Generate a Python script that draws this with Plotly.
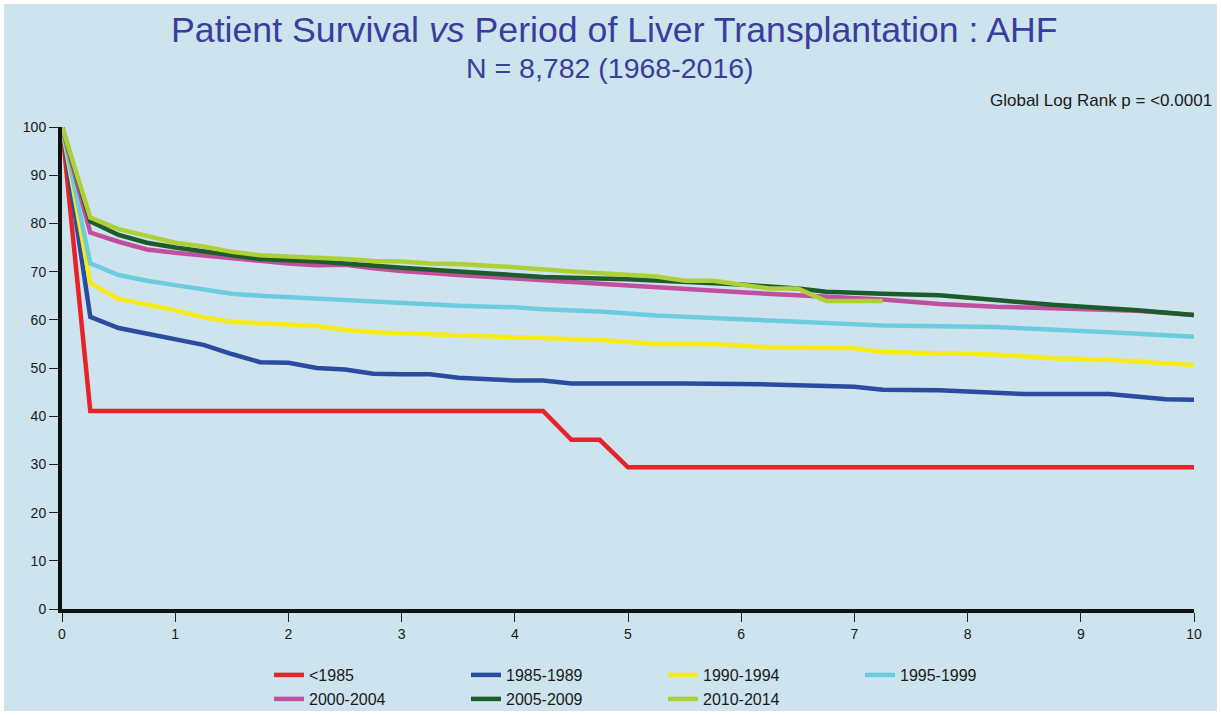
import plotly.graph_objects as go

# ---- data ----
series_names = ["<1985", "1985-1989", "1990-1994", "1995-1999", "2000-2004", "2005-2009", "2010-2014"]
series_colors = ["#e8212b", "#2a4b9f", "#f6ea17", "#6dcbdf", "#c24e9f", "#1c5c2a", "#acd036"]
legend_rows = ["legend", "legend", "legend", "legend", "legend2", "legend2", "legend2"]

t_lt1985 = [0, 0.25, 4.25, 4.5, 4.75, 5.0, 10]
s_lt1985 = [100, 41.1, 41.1, 35.1, 35.1, 29.4, 29.4]

t_1985 = [0, 0.25, 0.5, 0.75, 1.0, 1.25, 1.5, 1.75, 2.0, 2.25, 2.5, 2.75, 3.0, 3.25, 3.5, 4.0,
          4.25, 4.5, 5.5, 6.25, 7.0, 7.25, 7.75, 8.5, 9.25, 9.75, 10]
s_1985 = [100, 60.6, 58.3, 57.1, 55.9, 54.8, 52.9, 51.2, 51.1, 50.0, 49.7, 48.8, 48.7, 48.7, 48.0, 47.4,
          47.4, 46.8, 46.8, 46.6, 46.1, 45.5, 45.4, 44.6, 44.6, 43.5, 43.4]

t_1990 = [0, 0.25, 0.5, 0.75, 1.0, 1.25, 1.5, 1.75, 2.0, 2.25, 2.5, 2.75, 3.25, 3.5, 4.0, 4.25,
          4.75, 5.25, 5.75, 6.25, 7.0, 7.25, 8.25, 8.75, 9.25, 10]
s_1990 = [100, 67.6, 64.3, 63.1, 62.0, 60.5, 59.6, 59.3, 59.1, 58.7, 57.9, 57.4, 57.0, 56.8, 56.2, 56.0,
          55.8, 55.0, 55.0, 54.3, 54.1, 53.3, 52.8, 52.0, 51.7, 50.6]

t_1995 = [0, 0.25, 0.5, 0.75, 1.0, 1.25, 1.5, 1.75, 2.0, 2.25, 2.5, 2.75, 3.0, 3.5, 4.0, 4.25,
          4.75, 5.25, 6.5, 7.25, 8.25, 8.75, 9.25, 10]
s_1995 = [100, 71.7, 69.3, 68.1, 67.2, 66.2, 65.4, 65.0, 64.7, 64.3, 64.0, 63.6, 63.3, 62.9, 62.6, 62.2,
          61.7, 60.9, 59.6, 58.8, 58.5, 58.0, 57.4, 56.5]

t_2000 = [0, 0.25, 0.5, 0.75, 1.0, 1.25, 1.5, 1.75, 2.0, 2.25, 2.5, 2.75, 3.0, 3.5, 4.0, 4.25,
          5.0, 6.0, 6.5, 7.25, 7.75, 8.25, 8.75, 9.5, 10]
s_2000 = [100, 78.1, 76.2, 74.6, 73.9, 73.3, 72.8, 72.1, 71.7, 71.3, 71.4, 70.7, 70.1, 69.3, 68.5, 68.3,
          67.1, 65.7, 65.1, 64.2, 63.3, 62.7, 62.4, 61.9, 61.0]

t_2005 = [0, 0.25, 0.5, 0.75, 1.0, 1.25, 1.5, 1.75, 2.0, 2.25, 2.5, 2.75, 3.0, 3.5, 4.0, 4.25,
          5.0, 6.0, 6.5, 6.75, 7.25, 7.75, 8.25, 8.75, 9.5, 10]
s_2005 = [100, 80.4, 77.6, 76.0, 75.0, 74.3, 73.4, 72.6, 72.4, 72.1, 71.7, 71.2, 70.8, 70.0, 69.3, 68.9,
          68.4, 67.3, 66.5, 65.8, 65.4, 65.1, 64.1, 63.1, 62.0, 61.0]

t_2010 = [0, 0.25, 0.5, 0.75, 1.0, 1.25, 1.5, 1.75, 2.0, 2.25, 2.5, 2.75, 3.0, 3.25, 3.5, 4.0,
          4.25, 4.5, 5.25, 5.5, 5.75, 6.25, 6.5, 6.75, 7.25]
s_2010 = [100, 81.2, 78.8, 77.4, 76.0, 75.2, 74.1, 73.4, 73.2, 72.9, 72.6, 72.2, 72.1, 71.7, 71.6, 70.9,
          70.4, 70.0, 69.0, 68.1, 68.1, 66.5, 66.5, 63.9, 63.9]

x_ticks = [0, 1, 2, 3, 4, 5, 6, 7, 8, 9, 10]
y_ticks = [0, 10, 20, 30, 40, 50, 60, 70, 80, 90, 100]

title_main = "Patient Survival <i>vs</i> Period of Liver Transplantation : AHF"
title_sub = "N = 8,782 (1968-2016)"
note_text = "Global Log Rank p = &lt;0.0001"

times = [t_lt1985, t_1985, t_1990, t_1995, t_2000, t_2005, t_2010]
survs = [s_lt1985, s_1985, s_1990, s_1995, s_2000, s_2005, s_2010]

FONT = "Liberation Sans Narrow, Arial Narrow, Liberation Sans, Arial, sans-serif"
BG = "#cde3ed"

fig = go.Figure()
for name, color, t, s, lg in zip(series_names, series_colors, times, survs, legend_rows):
    fig.add_trace(go.Scatter(x=t, y=s, mode="lines", name=name, legend=lg,
                             line=dict(color=color, width=4.5)))

W, H = 1221, 715
ml, mr, mt, mb = 62, 27, 127, 106
pw, ph = W - ml - mr, H - mt - mb

legend_common = dict(orientation="h", xanchor="left", yanchor="top",
                     entrywidth=152, entrywidthmode="pixels",
                     font=dict(family=FONT, size=16, color="#1a1a1a"),
                     bgcolor="rgba(0,0,0,0)", tracegroupgap=0)

fig.update_layout(
    width=W, height=H,
    margin=dict(l=ml, r=mr, t=mt, b=mb, pad=0, autoexpand=False),
    paper_bgcolor=BG, plot_bgcolor=BG,
    font=dict(family=FONT, color="#1a1a1a", size=13),
    showlegend=True,
    legend=dict(x=(269 - ml) / pw, y=-(658 - (H - mb)) / ph, **legend_common),
    legend2=dict(x=(269 - ml) / pw, y=-(682 - (H - mb)) / ph, **legend_common),
    xaxis=dict(range=[0, 10], tickvals=x_ticks, showgrid=False, zeroline=False,
               showline=True, linecolor="#111", linewidth=4, ticks="outside",
               ticklen=9, tickwidth=1.3, tickcolor="#222",
               tickfont=dict(family=FONT, size=14, color="#1a1a1a")),
    yaxis=dict(range=[0, 100], tickvals=y_ticks, showgrid=False, zeroline=False,
               showline=True, linecolor="#111", linewidth=4, ticks="outside",
               ticklen=9, tickwidth=1.3, tickcolor="#222",
               tickfont=dict(family=FONT, size=14, color="#1a1a1a")),
    annotations=[
        dict(text=title_main, xref="paper", yref="paper",
             x=(614 - ml) / pw, y=1 + (mt - 30) / ph, xanchor="center", yanchor="middle",
             showarrow=False, font=dict(family=FONT, size=35.7, color="#3a3d9c")),
        dict(text=title_sub, xref="paper", yref="paper",
             x=(610 - ml) / pw, y=1 + (mt - 68) / ph, xanchor="center", yanchor="middle",
             showarrow=False, font=dict(family=FONT, size=28.5, color="#3a3d9c")),
        dict(text=note_text, xref="paper", yref="paper",
             x=(1214 - ml) / pw, y=1 + (mt - 101) / ph, xanchor="right", yanchor="middle",
             showarrow=False, font=dict(family=FONT, size=17, color="#1a1a1a")),
    ],
    shapes=[
        dict(type="rect", xref="paper", yref="paper",
             x0=-ml / pw, x1=1 + mr / pw, y0=-mb / ph, y1=1 + mt / ph,
             line=dict(color="white", width=8), fillcolor="rgba(0,0,0,0)", layer="above"),
    ],
)

fig.write_html("out.html", config={"displayModeBar": False},
               post_script="document.body.style.margin='0';document.body.style.padding='0';")
